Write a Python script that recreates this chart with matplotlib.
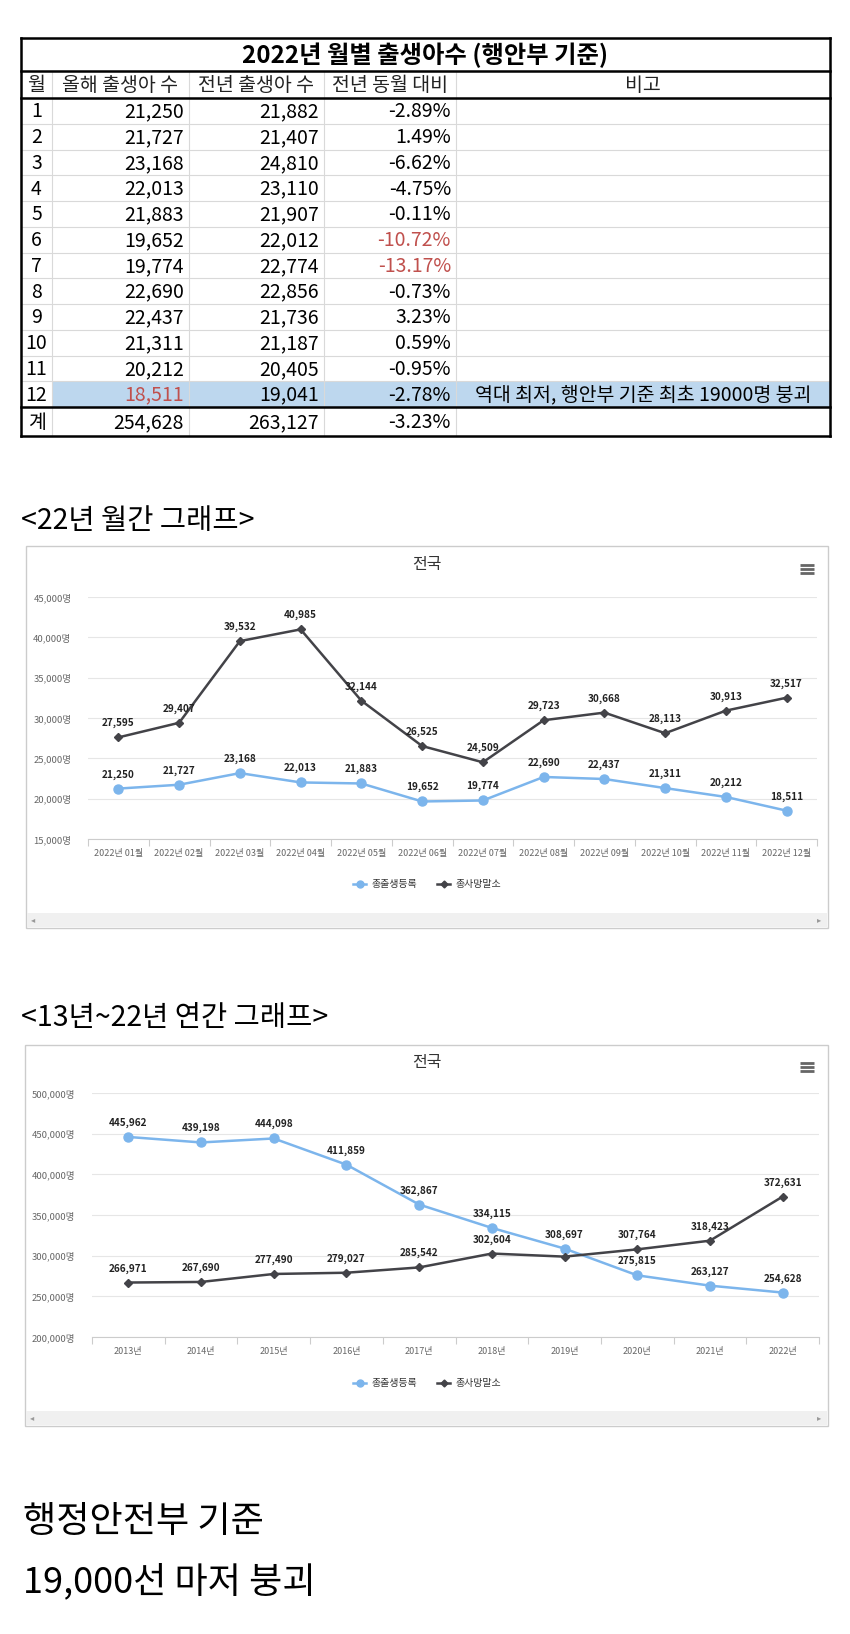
import matplotlib
matplotlib.use('Agg')
import matplotlib.pyplot as plt
from matplotlib.patches import Rectangle
from matplotlib.lines import Line2D

plt.rcParams['font.family'] = ['Noto Sans CJK KR', 'DejaVu Sans']

W, H = 850, 1634

# ---- table data ----
months = ['1', '2', '3', '4', '5', '6', '7', '8', '9', '10', '11', '12']
births_2022 = [21250, 21727, 23168, 22013, 21883, 19652, 19774, 22690, 22437, 21311, 20212, 18511]
births_2021 = [21882, 21407, 24810, 23110, 21907, 22012, 22774, 22856, 21736, 21187, 20405, 19041]
yoy_pct = [-2.89, 1.49, -6.62, -4.75, -0.11, -10.72, -13.17, -0.73, 3.23, 0.59, -0.95, -2.78]
remarks = [''] * 11 + ['역대 최저, 행안부 기준 최초 19000명 붕괴']
total_row = ['계', '254,628', '263,127', '-3.23%', '']
headers = ['월', '올해 출생아 수', '전년 출생아 수', '전년 동월 대비', '비고']
table_title = '2022년 월별 출생아수 (행안부 기준)'

# ---- chart data ----
month_labels = ['2022년 %02d월' % m for m in range(1, 13)]
monthly_births = births_2022
monthly_deaths = [27595, 29407, 39532, 40985, 32144, 26525, 24509, 29723, 30668, 28113, 30913, 32517]

years = ['%d년' % y for y in range(2013, 2023)]
yearly_births = [445962, 439198, 444098, 411859, 362867, 334115, 308697, 275815, 263127, 254628]
yearly_deaths = [266971, 267690, 277490, 279027, 285542, 302604, 298820, 307764, 318423, 372631]
yearly_deaths_shown = [True] * 6 + [False] + [True] * 3

series_names = ['총출생등록', '총사망말소']
BLUE = '#7cb5ec'
DARK = '#434348'
RED = '#c0504d'

fig = plt.figure(figsize=(W / 100, H / 100), dpi=100)
bg = fig.add_axes([0, 0, 1, 1])
bg.set_xlim(0, W)
bg.set_ylim(H, 0)
bg.axis('off')


def px_axes(x0, y0, x1, y1):
    return fig.add_axes([x0 / W, 1 - y1 / H, (x1 - x0) / W, (y1 - y0) / H])


# ---------------- table ----------------
cols = [21, 52, 189, 324, 456, 830]
title_top, title_bot, head_bot = 38, 71, 98
row_h = 25.75
rows_y = [head_bot + i * row_h for i in range(13)]
total_bot = 436
fs = 14

# highlighted row 12
bg.add_patch(Rectangle((cols[1], rows_y[11]), cols[5] - cols[1], row_h,
                       facecolor='#bdd7ee', edgecolor='none', zorder=1))

# light inner grid
for y in rows_y[1:12]:
    bg.plot([cols[0], cols[5]], [y, y], color='#d9d9d9', lw=0.8, zorder=2)
for x in cols[1:5]:
    bg.plot([x, x], [title_bot, total_bot], color='#d9d9d9', lw=0.8, zorder=2)

# heavy borders
for y in [title_top, title_bot, head_bot, rows_y[12], total_bot]:
    bg.plot([cols[0], cols[5]], [y, y], color='black', lw=1.8, zorder=3)
for x in [cols[0], cols[5]]:
    bg.plot([x, x], [title_top, total_bot], color='black', lw=1.8, zorder=3)

bg.text((cols[0] + cols[5]) / 2, (title_top + title_bot) / 2 + 1, table_title,
        ha='center', va='center', fontsize=17.5, fontweight='bold', zorder=4)

for i, h in enumerate(headers):
    bg.text((cols[i] + cols[i + 1]) / 2, (title_bot + head_bot) / 2 + 1, h,
            ha='center', va='center', fontsize=fs, color='#222222', zorder=4)


def cell(ci, yc, s, color='black', align='right'):
    if align == 'right':
        bg.text(cols[ci + 1] - 5, yc, s, ha='right', va='center', fontsize=fs,
                color=color, zorder=4)
    else:
        bg.text((cols[ci] + cols[ci + 1]) / 2, yc, s, ha='center', va='center',
                fontsize=fs, color=color, zorder=4)


for i in range(12):
    yc = rows_y[i] + row_h / 2 + 1
    cell(0, yc, months[i], align='center')
    cell(1, yc, f'{births_2022[i]:,}', color=RED if i == 11 else 'black')
    cell(2, yc, f'{births_2021[i]:,}')
    cell(3, yc, f'{yoy_pct[i]:.2f}%', color=RED if yoy_pct[i] < -10 else 'black')
    if remarks[i]:
        cell(4, yc, remarks[i], align='center')

yc = (rows_y[12] + total_bot) / 2 + 1
cell(0, yc, total_row[0], align='center')
for ci in (1, 2, 3):
    cell(ci, yc, total_row[ci])

# ---------------- headings ----------------
bg.text(21, 521, '<22년 월간 그래프>', ha='left', va='center', fontsize=20.5)
bg.text(21, 1018, '<13년~22년 연간 그래프>', ha='left', va='center', fontsize=20.5)
bg.text(23, 1522, '행정안전부 기준', ha='left', va='center', fontsize=26)
bg.text(23, 1582, '19,000선 마저 붕괴', ha='left', va='center', fontsize=26)


# ---------------- chart helper ----------------
def draw_chart(frame, plot, cats, s1, s2, ylim, yticks, show2, title_y, legend_y):
    fx0, fy0, fx1, fy1 = frame
    bg.add_patch(Rectangle((fx0, fy0), fx1 - fx0, fy1 - fy0, facecolor='white',
                           edgecolor='#cccccc', lw=1.0, zorder=1))
    # scrollbar
    bg.add_patch(Rectangle((fx0 + 1, fy1 - 15), fx1 - fx0 - 2, 14, facecolor='#f0f0f0',
                           edgecolor='none', zorder=2))
    bg.text(fx0 + 7, fy1 - 8, '◂', ha='center', va='center', fontsize=6,
            color='#999999', family='DejaVu Sans', zorder=3)
    bg.text(fx1 - 9, fy1 - 8, '▸', ha='center', va='center', fontsize=6,
            color='#999999', family='DejaVu Sans', zorder=3)
    # title and menu icon
    bg.text((fx0 + fx1) / 2, title_y, '전국', ha='center', va='center',
            fontsize=11.5, color='#333333', zorder=3)
    for dy in (-4, 0, 4):
        bg.plot([800, 814], [title_y + 5 + dy, title_y + 5 + dy], color='#666666',
                lw=2, zorder=3, solid_capstyle='butt')

    ax = px_axes(*plot)
    ax.set_facecolor('none')
    n = len(cats)
    xs = list(range(n))
    ax.set_xlim(-0.5, n - 0.5)
    ax.set_ylim(*ylim)
    ax.set_yticks(yticks)
    ax.set_yticklabels([f'{v:,}명' for v in yticks], fontsize=6.8, color='#666666')
    ax.set_xticks(xs)
    ax.set_xticklabels(cats, fontsize=6.5, color='#666666')
    ax.set_xticks([i - 0.5 for i in range(n + 1)], minor=True)
    ax.tick_params(axis='x', which='major', length=0, pad=7)
    ax.tick_params(axis='x', which='minor', length=5, color='#cccccc', width=0.8)
    ax.tick_params(axis='y', length=0, pad=12)
    ax.grid(axis='y', color='#e6e6e6', lw=0.8)
    ax.set_axisbelow(True)
    for s in ('top', 'right', 'left'):
        ax.spines[s].set_visible(False)
    ax.spines['bottom'].set_color('#cccccc')
    ax.spines['bottom'].set_linewidth(0.8)

    ax.plot(xs, s1, color=BLUE, lw=1.8, marker='o', ms=6.5, mec=BLUE, zorder=3,
            clip_on=False)
    ax.plot(xs, s2, color=DARK, lw=1.8, marker='D', ms=4.5, mec=DARK, zorder=4,
            clip_on=False)
    for i in xs:
        ax.annotate(f'{s1[i]:,}', (i, s1[i]), xytext=(0, 6.5), textcoords='offset points',
                    ha='center', va='bottom', fontsize=7.2, fontweight='bold',
                    color='#222222', zorder=5)
        if show2[i]:
            ax.annotate(f'{s2[i]:,}', (i, s2[i]), xytext=(0, 6.5), textcoords='offset points',
                        ha='center', va='bottom', fontsize=7.2, fontweight='bold',
                        color='#222222', zorder=5)

    handles = [Line2D([], [], color=BLUE, lw=1.8, marker='o', ms=5),
               Line2D([], [], color=DARK, lw=1.8, marker='D', ms=3.5)]
    fig.legend(handles, series_names, loc='center',
               bbox_to_anchor=(427 / W, 1 - legend_y / H), ncol=2, frameon=False,
               fontsize=7.2, handlelength=1.3, handletextpad=0.5, columnspacing=2.0,
               labelcolor='#333333')
    return ax


draw_chart((26, 546, 828, 928), (88, 597, 817, 839), month_labels,
           monthly_births, monthly_deaths, (15000, 45000),
           list(range(15000, 45001, 5000)), [True] * 12, 564, 884)

draw_chart((25, 1045, 828, 1426), (92, 1093, 819, 1337), years,
           yearly_births, yearly_deaths, (200000, 500000),
           list(range(200000, 500001, 50000)), yearly_deaths_shown, 1062, 1383)

fig.savefig('out.png', dpi=100, facecolor='white')
